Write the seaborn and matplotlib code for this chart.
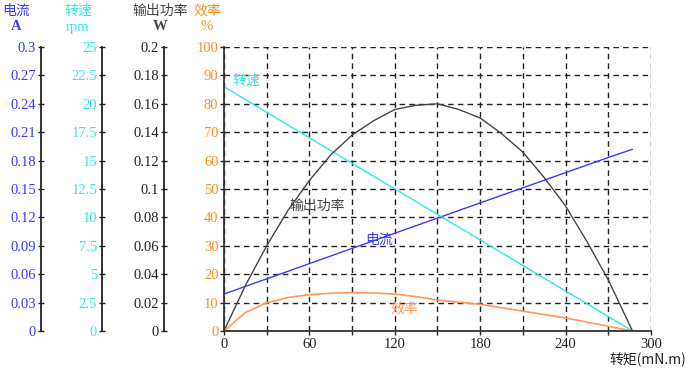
import numpy as np
import pandas as pd
import matplotlib
matplotlib.use("Agg")
import matplotlib.pyplot as plt
import seaborn as sns

sns.set_theme(style="white")
plt.rcParams['font.family'] = ['Liberation Serif', 'Noto Sans CJK SC', 'DejaVu Sans']

# ---- data (torque in mN.m) ----
torque = [0, 15, 30, 45, 60, 75, 90, 105, 120, 135, 150, 165, 180, 195, 210, 225, 240, 255, 270, 287]
current_A = [0.039, 0.0471, 0.0551, 0.0631, 0.0712, 0.0792, 0.0873, 0.0953, 0.1033, 0.1113, 0.1193,
             0.1273, 0.1353, 0.1433, 0.1513, 0.1593, 0.1673, 0.1753, 0.1833, 0.192]
speed_rpm = [21.5, 20.38, 19.25, 18.13, 17.01, 15.88, 14.76, 13.63, 12.51, 11.39, 10.26,
             9.14, 8.02, 6.89, 5.77, 4.64, 3.52, 2.40, 1.27, 0.0]
power_W = [0, 0.032, 0.060, 0.085, 0.106, 0.124, 0.138, 0.148, 0.156, 0.159, 0.160,
           0.156, 0.150, 0.139, 0.126, 0.108, 0.088, 0.063, 0.036, 0]
eff_torque = [0, 15, 30, 45, 60, 75, 90, 105, 120, 135, 150, 180, 210, 240, 287]
efficiency = [0, 6.5, 9.9, 11.8, 12.8, 13.3, 13.5, 13.4, 13.0, 12.1, 10.9, 9.4, 7.0, 4.6, 0]

current_ticks = [0, 0.03, 0.06, 0.09, 0.12, 0.15, 0.18, 0.21, 0.24, 0.27, 0.3]
speed_ticks = [0, 2.5, 5, 7.5, 10, 12.5, 15, 17.5, 20, 22.5, 25]
power_ticks = [0, 0.02, 0.04, 0.06, 0.08, 0.1, 0.12, 0.14, 0.16, 0.18, 0.2]
eff_ticks = [0, 10, 20, 30, 40, 50, 60, 70, 80, 90, 100]
x_ticks = [0, 30, 60, 90, 120, 150, 180, 210, 240, 270, 300]
x_labels = ['0', '', '60', '', '120', '', '180', '', '240', '', '300']

C_CUR = '#3a3aff'
C_SPD = '#33e6e6'
C_PWR = '#444444'
C_EFF = '#ff9955'
C_EFF_T = '#ff8c1a'

df = pd.DataFrame({
    'torque': torque * 3,
    'value': [v / 0.3 * 100 for v in current_A] + [v / 25 * 100 for v in speed_rpm] + [v / 0.2 * 100 for v in power_W],
    'series': ['电流'] * len(torque) + ['转速'] * len(torque) + ['输出功率'] * len(torque),
})
df_eff = pd.DataFrame({'torque': eff_torque, 'value': efficiency})

fig = plt.figure(figsize=(6.93, 3.71), dpi=100)
L, B, T = 0.3232, 0.1078, 0.8733
ax = fig.add_axes([L, B, 0.9394 - L, T - B])

sns.lineplot(data=df, x='torque', y='value', hue='series',
             palette={'电流': C_CUR, '转速': C_SPD, '输出功率': C_PWR},
             ax=ax, legend=False, linewidth=1.0, sort=False, estimator=None)
sns.lineplot(data=df_eff, x='torque', y='value', color=C_EFF, ax=ax, linewidth=1.2, estimator=None)

ax.set_xlim(0, 300)
ax.set_ylim(0, 100)
ax.set_xticks(x_ticks)
ax.set_xticklabels(x_labels)
ax.set_yticks(eff_ticks)
ax.set_yticklabels([str(t) for t in eff_ticks])
ax.set_xlabel('')
ax.set_ylabel('')
ax.tick_params(axis='both', labelsize=10.5, length=3, direction='out', width=1, colors='#222222',
               bottom=True, left=True)
ax.tick_params(axis='x', pad=2)
ax.tick_params(axis='y', pad=1)
for lab in ax.get_yticklabels():
    lab.set_color(C_EFF_T)
ax.grid(True, color='#222222', linestyle=(0, (4, 3)), linewidth=1.0)
for s in ['top', 'right']:
    ax.spines[s].set_visible(False)
for s in ['left', 'bottom']:
    ax.spines[s].set_color('#333333')
    ax.spines[s].set_linewidth(1.3)

txt_font = ['Noto Sans CJK SC', 'DejaVu Sans']
ax.text(6, 88, '转速', color=C_SPD, fontsize=10, family=txt_font, va='center')
ax.text(46, 44, '输出功率', color=C_PWR, fontsize=10, family=txt_font, va='center')
ax.text(99, 32, '电流', color=C_CUR, fontsize=10, family=txt_font, va='center')
ax.text(117, 8, '效率', color=C_EFF, fontsize=10, family=txt_font, va='center')
fig.text(0.99, 1 - 360 / 371, '转矩(mN.m)', ha='right', va='center', fontsize=10, color='#222222',
         family=['Noto Sans CJK SC', 'Liberation Serif'])

# extra axes
def side_axis(xpos, ticks, labels, tcolor):
    a = fig.add_axes([xpos, B, 0.0001, T - B])
    a.set_ylim(ticks[0], ticks[-1])
    a.set_yticks(ticks)
    a.set_yticklabels(labels)
    a.set_xticks([])
    for s in ['top', 'right', 'bottom']:
        a.spines[s].set_visible(False)
    a.spines['left'].set_color('#222222')
    a.spines['left'].set_linewidth(1.3)
    a.tick_params(axis='y', labelsize=10.5, length=5, width=1, direction='inout', colors='#222222',
                  pad=1, left=True)
    for lab in a.get_yticklabels():
        lab.set_color(tcolor)
    a.patch.set_visible(False)
    return a

side_axis(40.7 / 693, current_ticks, [f'{t:g}' for t in current_ticks], C_CUR)
side_axis(102 / 693, speed_ticks, [f'{t:g}' for t in speed_ticks], C_SPD)
side_axis(163.5 / 693, power_ticks, [f'{t:g}' for t in power_ticks], '#222222')

hdr_font = ['Noto Sans CJK SC', 'DejaVu Sans']
for x, top, unit, c in [(16, '电流', 'A', C_CUR), (78, '转速', 'rpm', C_SPD),
                         (160, '输出功率', 'W', C_PWR), (207, '效率', '%', C_EFF_T)]:
    fig.text(x / 693, 1 - 11 / 371, top, color=c, fontsize=10, ha='center', va='center', family=hdr_font)
    fig.text(x / 693, 1 - 27 / 371, unit, color=c, fontsize=10.5, ha='center', va='center',
             family=['Liberation Serif'], weight='bold' if unit in ('A', 'W') else 'normal')

fig.savefig('out.png', dpi=100)
